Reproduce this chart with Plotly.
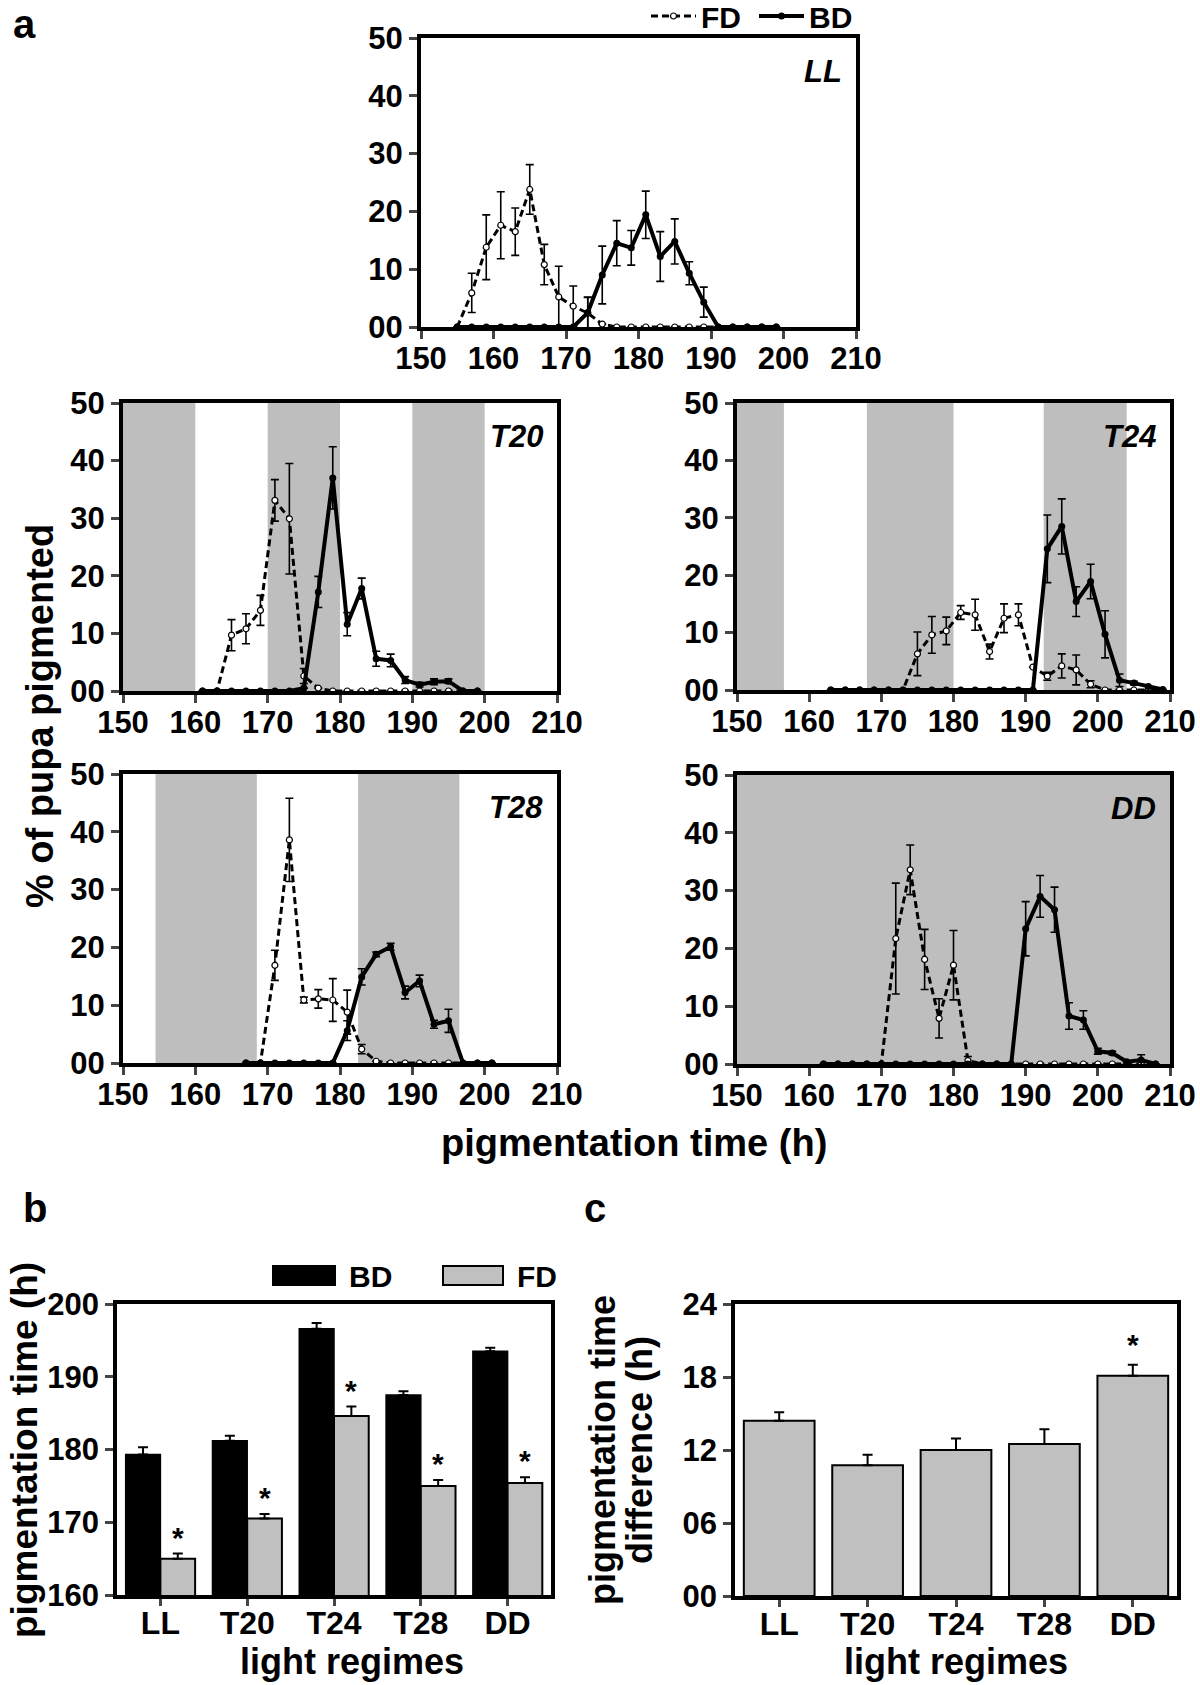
import plotly.graph_objects as go

W, H = 1200, 1685
FONT = "Liberation Sans, Arial, Helvetica, sans-serif"

# ---------------- data: panel a ----------------
LL_x = [155, 157, 159, 161, 163, 165, 167, 169, 171, 173, 175, 177, 179, 181, 183, 185, 187, 189, 191, 193, 195, 197, 199]
LL_FD = [0, 5.9, 13.8, 17.6, 16.5, 23.8, 10.8, 5.2, 3.6, 2.4, 0.5, 0, 0, 0, 0, 0, 0, 0, 0, 0, 0, 0, 0]
LL_FD_err = [None, 3.4, 5.6, 5.8, 4.1, 4.3, 3.5, 5.3, 3.5, 2.7, None, None, None, None, None, None, None, None, None, None, None, None, None]
LL_BD = [0, 0, 0, 0, 0, 0, 0, 0, 0, 2.5, 9.0, 14.5, 13.7, 19.4, 12.2, 14.8, 9.3, 4.3, 0, 0, 0, 0, 0]
LL_BD_err = [None, None, None, None, None, None, None, None, None, 2.7, 5.0, 3.9, 3.0, 4.1, 4.3, 3.9, 2.0, 2.6, None, None, None, None, None]

T20_x = [161, 163, 165, 167, 169, 171, 173, 175, 177, 179, 181, 183, 185, 187, 189, 191, 193, 195, 197, 199]
T20_FD = [0, 0, 9.7, 10.8, 14.0, 33.1, 29.9, 2.6, 0.5, 0, 0, 0, 0, 0, 0, 0, 0, 0, 0, 0]
T20_FD_err = [None, None, 2.7, 2.6, 2.6, 3.6, 9.6, 1.3, None, None, None, None, None, None, None, None, None, None, None, None]
T20_BD = [0, 0, 0, 0, 0, 0, 0, 0.5, 17.2, 37.0, 11.6, 17.8, 5.6, 5.3, 1.9, 1.1, 1.6, 1.7, 0, 0]
T20_BD_err = [None, None, None, None, None, None, None, None, 2.7, 5.4, 2.0, 1.8, 1.3, 1.1, 0.6, 0.4, 0.5, 0.4, None, None]

T24_x = [163, 165, 167, 169, 171, 173, 175, 177, 179, 181, 183, 185, 187, 189, 191, 193, 195, 197, 199, 201, 203, 205, 207, 209]
T24_FD = [0, 0, 0, 0, 0, 0, 6.3, 9.6, 10.3, 13.5, 13.1, 6.7, 12.5, 13.1, 4.0, 2.4, 4.2, 3.5, 1.0, 0, 0, 0, 0, 0]
T24_FD_err = [None, None, None, None, None, None, 3.8, 3.2, 2.4, 1.2, 2.7, 1.3, 2.5, 1.9, None, 0.7, 2.1, 2.6, 0.6, None, None, None, None, None]
T24_BD = [0, 0, 0, 0, 0, 0, 0, 0, 0, 0, 0, 0, 0, 0, 0, 24.6, 28.5, 15.4, 18.9, 9.7, 1.7, 1.2, 0.6, 0.1]
T24_BD_err = [None, None, None, None, None, None, None, None, None, None, None, None, None, None, None, 5.9, 4.8, 2.6, 3.0, 4.1, 1.1, 0.3, None, None]

T28_x = [167, 169, 171, 173, 175, 177, 179, 181, 183, 185, 187, 189, 191, 193, 195, 197, 199, 201]
T28_FD = [0, 0, 16.9, 38.6, 10.9, 11.1, 10.9, 8.8, 2.4, 0.3, 0, 0, 0, 0, 0, 0, 0, 0]
T28_FD_err = [None, None, 2.6, 7.2, 0.5, 1.6, 3.7, 3.8, 0.8, None, None, None, None, None, None, None, None, None]
T28_BD = [0, 0, 0, 0, 0, 0, 0, 5.6, 14.9, 18.8, 20.1, 12.2, 14.2, 6.7, 7.3, 0, 0, 0]
T28_BD_err = [None, None, None, None, None, None, None, 1.7, 1.4, 0.4, 0.6, 1.1, 1.0, 0.7, 2.0, None, None, None]

DD_x = [162, 164, 166, 168, 170, 172, 174, 176, 178, 180, 182, 184, 186, 188, 190, 192, 194, 196, 198, 200, 202, 204, 206, 208]
DD_FD = [0, 0, 0, 0, 0, 21.7, 33.6, 18.1, 7.9, 17.1, 0.6, 0, 0, 0, 0, 0, 0, 0, 0, 0, 0, 0, 0, 0]
DD_FD_err = [None, None, None, None, None, 9.6, 4.3, 5.2, 3.4, 6.0, 0.7, None, None, None, None, None, None, None, None, None, None, None, None, None]
DD_BD = [0, 0, 0, 0, 0, 0, 0, 0, 0, 0, 0, 0, 0, 0, 23.4, 29.0, 26.7, 8.3, 7.6, 2.2, 1.9, 0.4, 0.7, 0]
DD_BD_err = [None, None, None, None, None, None, None, None, None, None, None, None, None, None, 4.7, 3.6, 3.9, 2.3, 1.6, 0.5, 0.3, None, 0.9, None]

# dark periods (h) for each regime
dark_LL = []
dark_T20 = [(150, 160), (170, 180), (190, 200)]
dark_T24 = [(144, 156.5), (168, 180), (192.5, 204)]
dark_T28 = [(154.5, 168.5), (182.5, 196.5)]
dark_DD = [(150, 210)]

x_ticks = [150, 160, 170, 180, 190, 200, 210]
y_ticks_a = [0, 10, 20, 30, 40, 50]
y_ticktext_a = ["00", "10", "20", "30", "40", "50"]

# ---------------- data: panels b, c ----------------
regimes = ["LL", "T20", "T24", "T28", "DD"]
b_BD = [179.3, 181.2, 196.6, 187.5, 193.5]
b_BD_err = [1.0, 0.7, 0.8, 0.5, 0.5]
b_FD = [165.0, 170.5, 184.6, 175.0, 175.4]
b_FD_err = [0.7, 0.65, 1.3, 0.8, 0.8]
b_FD_sig = [True, True, True, True, True]
y_ticks_b = [160, 170, 180, 190, 200]

c_diff = [14.4, 10.75, 12.0, 12.5, 18.1]
c_err = [0.7, 0.85, 0.95, 1.2, 0.9]
c_sig = [False, False, False, False, True]
y_ticks_c = [0, 6, 12, 18, 24]
y_ticktext_c = ["00", "06", "12", "18", "24"]

GRAY = "#bebebe"


def dx(a, b):
    return [a / W, b / W]


def dy(top, bottom):
    return [1 - bottom / H, 1 - top / H]


def px_x(v):
    return v / W


def px_y(v):
    return 1 - v / H


fig = go.Figure()
layout = dict(width=W, height=H, margin=dict(l=0, r=0, t=0, b=0, pad=0, autoexpand=False), autosize=False,
              paper_bgcolor="white", plot_bgcolor="white",
              font=dict(family=FONT, size=28, color="black", weight="bold"),
              barmode="group", bargap=0.2, bargroupgap=0.0,
              shapes=[], annotations=[])

line_panels = [
    ("LL", LL_x, LL_FD, LL_FD_err, LL_BD, LL_BD_err, dark_LL, (421, 856), (38, 327)),
    ("T20", T20_x, T20_FD, T20_FD_err, T20_BD, T20_BD_err, dark_T20, (123, 557), (403, 691)),
    ("T24", T24_x, T24_FD, T24_FD_err, T24_BD, T24_BD_err, dark_T24, (737, 1170), (403, 690)),
    ("T28", T28_x, T28_FD, T28_FD_err, T28_BD, T28_BD_err, dark_T28, (123, 557), (774, 1063)),
    ("DD", DD_x, DD_FD, DD_FD_err, DD_BD, DD_BD_err, dark_DD, (737, 1170), (775, 1064)),
]

XMIN, XMAX = 150, 210
tickfont = dict(family=FONT, size=31, color="black", weight="bold")

for i, (name, xs, fd, fde, bd, bde, dark, xd, yd) in enumerate(line_panels, start=1):
    sfx = "" if i == 1 else str(i)
    layout["xaxis" + sfx] = dict(domain=dx(*xd), anchor="y" + sfx, range=[XMIN, XMAX],
                                 tickvals=x_ticks, ticks="outside", ticklen=8, tickwidth=3,
                                 ticklabelstandoff=-7,
                                 showline=True, linewidth=4, linecolor="black", mirror=True,
                                 showgrid=False, zeroline=False, tickfont=tickfont)
    layout["yaxis" + sfx] = dict(domain=dy(*yd), anchor="x" + sfx, range=[0, 50],
                                 tickvals=y_ticks_a, ticktext=y_ticktext_a, ticks="outside",
                                 ticklen=8, tickwidth=3, showline=True, linewidth=4,
                                 linecolor="black", mirror=True, showgrid=False,
                                 zeroline=False, tickfont=tickfont)
    for (a, b) in dark:
        layout["shapes"].append(dict(type="rect", xref="x" + sfx, yref="y" + sfx + " domain",
                                     x0=max(a, XMIN), x1=min(b, XMAX), y0=0, y1=1,
                                     fillcolor=GRAY, line=dict(width=0), layer="below"))
    fig.add_trace(go.Scatter(
        x=xs, y=fd, xaxis="x" + sfx, yaxis="y" + sfx, name="FD", mode="lines+markers",
        line=dict(color="black", width=3, dash="7px,4px"),
        marker=dict(symbol="circle", size=6, color="white", line=dict(color="black", width=1.2)),
        error_y=dict(type="data", array=fde, visible=True, color="black", thickness=1.6, width=4),
        cliponaxis=False, showlegend=(i == 1), legendrank=1))
    fig.add_trace(go.Scatter(
        x=xs, y=bd, xaxis="x" + sfx, yaxis="y" + sfx, name="BD", mode="lines+markers",
        line=dict(color="black", width=4),
        marker=dict(symbol="circle", size=7, color="black"),
        error_y=dict(type="data", array=bde, visible=True, color="black", thickness=1.6, width=4),
        cliponaxis=False, showlegend=(i == 1), legendrank=2))
    layout["annotations"].append(dict(
        text="<i>" + name + "</i>", xref="x" + sfx + " domain", yref="y" + sfx + " domain",
        x=1, y=1, xanchor="right", yanchor="top", xshift=-12, yshift=-14, showarrow=False,
        font=dict(family=FONT, size=31, color="black", weight="bold")))

# ---------------- panel b ----------------
layout["xaxis6"] = dict(domain=dx(117, 551), anchor="y6", type="category",
                        categoryorder="array", categoryarray=regimes, range=[-0.5, 4.5],
                        ticks="outside", ticklen=7, tickwidth=3, ticklabelstandoff=-10,
                        showline=True, linewidth=3.5,
                        linecolor="black", mirror=True, showgrid=False, zeroline=False,
                        tickfont=dict(family=FONT, size=32, color="black", weight="bold"))
layout["yaxis6"] = dict(domain=dy(1304, 1595), anchor="x6", range=[160, 200], tickvals=y_ticks_b,
                        ticks="outside", ticklen=8, tickwidth=3, showline=True, linewidth=3.5,
                        linecolor="black", mirror=True, showgrid=False, zeroline=False,
                        tickfont=tickfont)
fig.add_trace(go.Bar(x=regimes, y=b_BD, xaxis="x6", yaxis="y6", name="BD",
                     marker=dict(color="black", line=dict(color="black", width=1.5)),
                     error_y=dict(type="data", array=b_BD_err, arrayminus=[0] * 5, symmetric=False,
                                  color="black", thickness=2, width=5),
                     showlegend=False))
fig.add_trace(go.Bar(x=regimes, y=b_FD, xaxis="x6", yaxis="y6", name="FD",
                     marker=dict(color="#c0c0c0", line=dict(color="black", width=2)),
                     error_y=dict(type="data", array=b_FD_err, arrayminus=[0] * 5, symmetric=False,
                                  color="black", thickness=2, width=5),
                     showlegend=False))
for k, (v, e, s) in enumerate(zip(b_FD, b_FD_err, b_FD_sig)):
    if s:
        layout["annotations"].append(dict(text="*", x=k + 0.2, y=v + e, xref="x6", yref="y6",
                                          yanchor="bottom", yshift=-2, showarrow=False,
                                          font=dict(family=FONT, size=30, color="black", weight="bold")))

# legend of panel b
for (x0, x1, fill, label, tx) in [(273, 335, "black", "BD", 347), (443, 503, "#c0c0c0", "FD", 515)]:
    layout["shapes"].append(dict(type="rect", xref="paper", yref="paper",
                                 x0=px_x(x0), x1=px_x(x1), y0=px_y(1285), y1=px_y(1266),
                                 fillcolor=fill, line=dict(color="black", width=2)))
    layout["annotations"].append(dict(text=label, xref="paper", yref="paper", x=px_x(tx), y=px_y(1276),
                                      xanchor="left", yanchor="middle", showarrow=False,
                                      font=dict(family=FONT, size=30, color="black", weight="bold")))

# ---------------- panel c ----------------
layout["xaxis7"] = dict(domain=dx(735, 1177), anchor="y7", type="category",
                        categoryorder="array", categoryarray=regimes, range=[-0.5, 4.5],
                        ticks="outside", ticklen=7, tickwidth=3, ticklabelstandoff=-10,
                        showline=True, linewidth=3.5,
                        linecolor="black", mirror=True, showgrid=False, zeroline=False,
                        tickfont=dict(family=FONT, size=32, color="black", weight="bold"))
layout["yaxis7"] = dict(domain=dy(1304, 1596), anchor="x7", range=[0, 24], tickvals=y_ticks_c,
                        ticktext=y_ticktext_c, ticks="outside", ticklen=8, tickwidth=3,
                        showline=True, linewidth=3.5, linecolor="black", mirror=True,
                        showgrid=False, zeroline=False, tickfont=tickfont)
fig.add_trace(go.Bar(x=regimes, y=c_diff, xaxis="x7", yaxis="y7", name="difference",
                     marker=dict(color="#c0c0c0", line=dict(color="black", width=2)),
                     error_y=dict(type="data", array=c_err, arrayminus=[0] * 5, symmetric=False,
                                  color="black", thickness=2, width=5),
                     showlegend=False))
for k, (v, e, s) in enumerate(zip(c_diff, c_err, c_sig)):
    if s:
        layout["annotations"].append(dict(text="*", x=k, y=v + e, xref="x7", yref="y7",
                                          yanchor="bottom", yshift=2, showarrow=False,
                                          font=dict(family=FONT, size=30, color="black", weight="bold")))

# ---------------- texts ----------------
texts = [
    ("a", 11, 24, "left", "middle", 0, 40),
    ("b", 21, 1208, "left", "middle", 0, 40),
    ("c", 582, 1208, "left", "middle", 0, 40),
    ("% of pupa pigmented", 40, 716, "center", "middle", -90, 38),
    ("pigmentation time (h)", 634, 1143, "center", "middle", 0, 38),
    ("pigmentation time (h)", 24, 1450, "center", "middle", -90, 37),
    ("light regimes", 352, 1661, "center", "middle", 0, 36),
    ("pigmentation time", 602, 1450, "center", "middle", -90, 36),
    ("difference (h)", 639, 1450, "center", "middle", -90, 36),
    ("light regimes", 956, 1661, "center", "middle", 0, 36),
]
for (t, x, y, xa, ya, ang, sz) in texts:
    layout["annotations"].append(dict(text=t, xref="paper", yref="paper", x=px_x(x), y=px_y(y),
                                      xanchor=xa, yanchor=ya, textangle=ang, showarrow=False,
                                      font=dict(family=FONT, size=sz, color="black", weight="bold")))

layout["legend"] = dict(orientation="h", x=px_x(862), xanchor="right", y=px_y(16), yanchor="middle",
                        font=dict(family=FONT, size=30, color="black", weight="bold"),
                        bgcolor="rgba(0,0,0,0)", itemwidth=45, traceorder="normal",
                        entrywidth=48, entrywidthmode="pixels")

fig.update_layout(**layout)
fig.write_html("out.html", config={"displayModeBar": False},
               post_script="document.body.style.margin='0px';")
